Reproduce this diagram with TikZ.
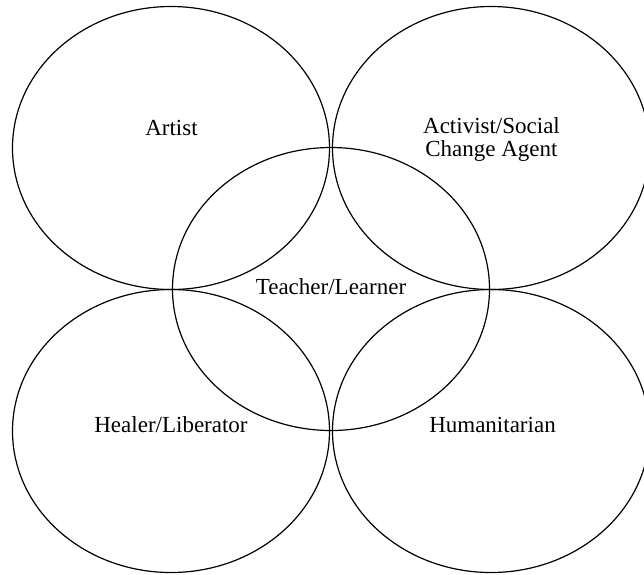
\documentclass[tikz,border=0pt]{standalone}
\usepackage{fontspec}
\setmainfont{Liberation Serif}
\usetikzlibrary{shapes.geometric}
\begin{document}
\begin{tikzpicture}[x=1pt,y=-1pt,
  ring/.style={ellipse, draw=black, line width=1.2pt, minimum width=317pt, minimum height=283pt, inner sep=0pt},
  lbl/.style={font=\fontsize{23}{23}\selectfont, align=center, inner sep=0pt}]
\useasboundingbox (0,0) rectangle (644,574);
\node[ring] (artist) at (171,148) {};
\node[ring] (activist) at (491,148) {};
\node[ring] (teacher) at (331,289) {};
\node[ring] (healer) at (171,431) {};
\node[ring] (human) at (491,431) {};
\node[lbl] (tArtist) at (171.5,128) {Artist};
\node[lbl] (tActivist) at (491.5,139) {Activist/Social\\Change Agent};
\node[lbl] (tTeacher) at (331,287) {Teacher/Learner};
\node[lbl] (tHealer) at (171,425) {Healer/Liberator};
\node[lbl] (tHuman) at (492.5,425) {Humanitarian};
\end{tikzpicture}
\end{document}
